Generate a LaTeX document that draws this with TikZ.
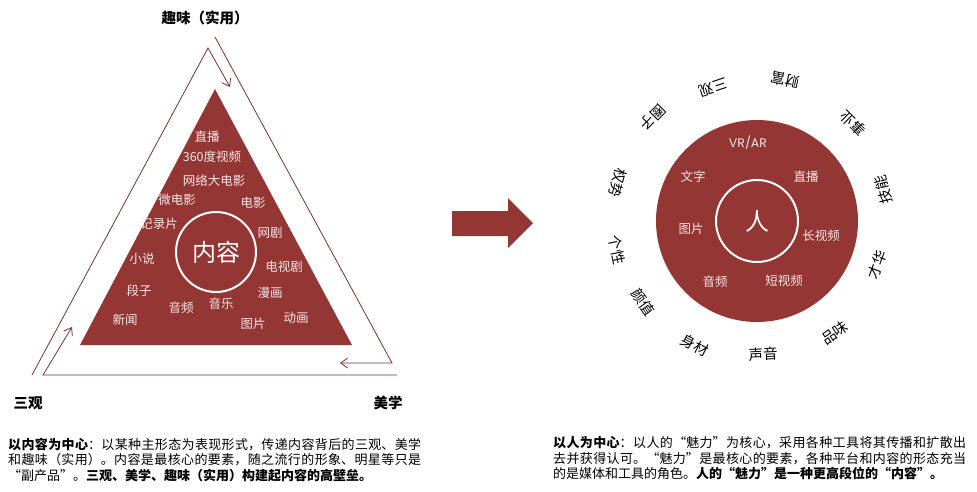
\documentclass[tikz,border=0pt]{standalone}
\usepackage{fontspec}
\setmainfont{Noto Sans CJK SC}
\newfontfamily\geo{Poppins}
\usetikzlibrary{arrows.meta,calc}
\definecolor{brick}{RGB}{148,54,52}
\definecolor{outl}{RGB}{115,50,48}
\definecolor{pinkw}{RGB}{247,230,230}
\XeTeXlinebreaklocale "zh"
\XeTeXlinebreakskip=0pt plus 1pt
\begin{document}
\begin{tikzpicture}[x=1pt,y=-1pt,
  outline/.style={draw=outl, line width=0.8pt, -{Straight Barb[length=7pt,width=10pt]}},
  tlab/.style={text=pinkw, inner sep=0, font=\fontsize{12.5}{14}\selectfont},
  clab/.style={text=pinkw, inner sep=0, font=\fontsize{12.5}{14}\selectfont},
  olab/.style={text=black, inner sep=0, font=\fontsize{14.5}{16}\selectfont},
  corner/.style={text=black, inner sep=0, font=\fontsize{14.5}{16}\selectfont\bfseries},
  ring/.style={circle, draw=white, line width=2pt, inner sep=0},
  body/.style={anchor=north west, inner sep=0, text width=413pt, align=justify,
    font=\fontsize{13}{15.5}\selectfont}]
\useasboundingbox (0,0) rectangle (977,491);

% ---------- left: triangle ----------
\coordinate (tA) at (215,89);
\coordinate (tL) at (80,345);
\coordinate (tR) at (352,345);
\fill[brick] (tA) -- (tL) -- (tR) -- cycle;
\node[ring, minimum size=80pt] (core) at (216,252) {};
\node[text=white, inner sep=0, font=\fontsize{24}{26}\selectfont] (coretxt) at (core) {内容};

\node[tlab] (l1) at (207,137) {直播};
\node[tlab] (l2) at (212,157) {360度视频};
\node[tlab] (l3) at (214,181) {网络大电影};
\node[tlab] (l4) at (177,200) {微电影};
\node[tlab] (l5) at (253,203) {电影};
\node[tlab] (l6) at (159,224) {记录片};
\node[tlab] (l7) at (270,233) {网剧};
\node[tlab] (l8) at (142,259) {小说};
\node[tlab] (l9) at (284,267) {电视剧};
\node[tlab] (l10) at (139,291) {段子};
\node[tlab] (l11) at (270,293) {漫画};
\node[tlab] (l12) at (181,308) {音频};
\node[tlab] (l13) at (221,304) {音乐};
\node[tlab] (l14) at (125,320) {新闻};
\node[tlab] (l15) at (253,324) {图片};
\node[tlab] (l16) at (296,318) {动画};

% outline arrows
\coordinate (p1) at (32,375);
\coordinate (p2) at (208,48);
\coordinate (p3) at (230,87);
\draw[outline] (p1) -- (p2) -- (p3);
\coordinate (q1) at (215,37);
\coordinate (q2) at (392,363);
\coordinate (q3) at (340,363);
\draw[outline] (q1) -- (q2) -- (q3);
\coordinate (r1) at (397,375);
\coordinate (r2) at (43,375);
\coordinate (r3) at (72,327);
\draw[outline] (r1) -- (r2) -- (r3);

\node[corner] (top) at (205,18) {趣味（实用）};
\node[corner] (sg) at (28,403) {三观};
\node[corner] (mx) at (388,403) {美学};

% ---------- middle arrow ----------
\fill[brick] (452,211) -- (508,211) -- (508,198) -- (533,223) -- (508,248) -- (508,236) -- (452,236) -- cycle;

% ---------- right: circle ----------
\coordinate (c) at (757,221);
\fill[brick] (c) circle (101);
\node[ring, minimum size=82pt] (person) at (c) {};
\node[text=white, inner sep=0, font=\fontsize{24}{26}\selectfont] (persontxt) at (person) {人};

\node[clab, font=\geo\fontsize{12.5}{14}\selectfont] (m1) at (748,143) {VR/AR};
\node[clab] (m2) at (693,177) {文字};
\node[clab] (m3) at (806,177) {直播};
\node[clab] (m4) at (691,229) {图片};
\node[clab] (m5) at (821,236) {长视频};
\node[clab] (m6) at (715,282) {音频};
\node[clab] (m7) at (784,281) {短视频};

\foreach \t/\a/\r [count=\i] in {财富/78.8/144, 三观/108.2/141, 圈子/135.3/147, 权势/164.7/144,
  个性/191.7/143, 颜值/215.4/140, 身材/243.4/139, 声音/272.6/133, 品味/304.9/136,
  才华/339.9/128, 技能/13.8/130, 事业/45.6/137}
  \node[olab, rotate=\a+90] (o\i) at ($(c)+(-\a:\r)$) {\t};

% ---------- captions ----------
\node[body] (capL) at (8,437.5) {{\bfseries 以内容为中心}：以某种主形态为表现形式，传递内容背后的三观、美学\linebreak
和趣味（实用）。内容是最核心的要素，随之流行的形象、明星等只是\linebreak
“副产品”。{\bfseries 三观、美学、趣味（实用）构建起内容的高壁垒。}};
\node[body] (capR) at (553,436.5) {{\bfseries 以人为中心}：以人的“魅力”为核心，采用各种工具将其传播和扩散出\linebreak
去并获得认可。“魅力”是最核心的要素，各种平台和内容的形态充当\linebreak
的是媒体和工具的角色。{\bfseries 人的“魅力”是一种更高段位的“内容”。}};
\end{tikzpicture}
\end{document}
